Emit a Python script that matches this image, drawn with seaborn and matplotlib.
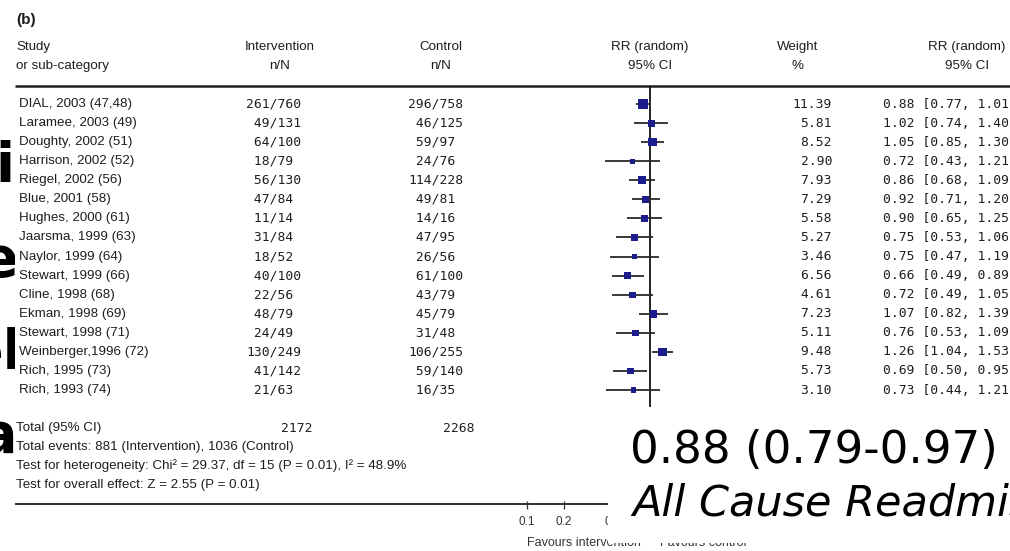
import numpy as np
import pandas as pd
import matplotlib
matplotlib.use("Agg")
import matplotlib.pyplot as plt
import seaborn as sns
from matplotlib.ticker import NullLocator, FixedLocator, FixedFormatter

# ---------------- data ----------------
studies = ["DIAL, 2003 (47,48)", "Laramee, 2003 (49)", "Doughty, 2002 (51)",
           "Harrison, 2002 (52)", "Riegel, 2002 (56)", "Blue, 2001 (58)",
           "Hughes, 2000 (61)", "Jaarsma, 1999 (63)", "Naylor, 1999 (64)",
           "Stewart, 1999 (66)", "Cline, 1998 (68)", "Ekman, 1998 (69)",
           "Stewart, 1998 (71)", "Weinberger,1996 (72)", "Rich, 1995 (73)",
           "Rich, 1993 (74)"]
int_events = [261, 49, 64, 18, 56, 47, 11, 31, 18, 40, 22, 48, 24, 130, 41, 21]
int_total = [760, 131, 100, 79, 130, 84, 14, 84, 52, 100, 56, 79, 49, 249, 142, 63]
ctl_events = [296, 46, 59, 24, 114, 49, 14, 47, 26, 61, 43, 45, 31, 106, 59, 16]
ctl_total = [758, 125, 97, 76, 228, 81, 16, 95, 56, 100, 79, 79, 48, 255, 140, 35]
weights = [11.39, 5.81, 8.52, 2.90, 7.93, 7.29, 5.58, 5.27, 3.46, 6.56, 4.61,
           7.23, 5.11, 9.48, 5.73, 3.10]
rr = [0.88, 1.02, 1.05, 0.72, 0.86, 0.92, 0.90, 0.75, 0.75, 0.66, 0.72, 1.07,
      0.76, 1.26, 0.69, 0.73]
rr_lo = [0.77, 0.74, 0.85, 0.43, 0.68, 0.71, 0.65, 0.53, 0.47, 0.49, 0.49, 0.82,
         0.53, 1.04, 0.50, 0.44]
rr_hi = [1.01, 1.40, 1.30, 1.21, 1.09, 1.20, 1.25, 1.06, 1.19, 0.89, 1.05, 1.39,
         1.09, 1.53, 0.95, 1.21]
total_int = "2172"
total_ctl = "2268"
scale_ticks = [0.1, 0.2, 0.5, 1, 2, 5, 10]
scale_labels = ["0.1", "0.2", "0.5", "1", "2", "5", "10"]
summary_text = "0.88 (0.79-0.97)"
outcome_text = "All Cause Readmission"
footer_lines = ["Total events: 881 (Intervention), 1036 (Control)",
                "Test for heterogeneity: Chi\u00b2 = 29.37, df = 15 (P = 0.01), I\u00b2 = 48.9%",
                "Test for overall effect: Z = 2.55 (P = 0.01)"]

df = pd.DataFrame({"study": studies, "rr": rr, "lo": rr_lo, "hi": rr_hi,
                   "weight": weights})
df["row"] = np.arange(len(df))

# ---------------- style ----------------
sns.set_theme(style="white")
plt.rcParams["font.family"] = ["Liberation Sans", "DejaVu Sans"]

W, H = 1010, 551
fig = plt.figure(figsize=(W / 100, H / 100), dpi=100)
fig.patch.set_facecolor("white")

INK = "#1e1e1e"
NAVY = "#1c1c8c"
SANS = 9.6
MONO = 9.4
MONOFAM = "DejaVu Sans Mono"
CHW = 8.3  # approx monospace char width in px

# background axes in pixel coordinates
bg = fig.add_axes([0, 0, 1, 1])
bg.set_xlim(0, W)
bg.set_ylim(H, 0)
bg.axis("off")

row_y0, row_dy = 104.0, 19.07
def ypix(i):
    return row_y0 + i * row_dy

# title and header
bg.text(16, 20, "(b)", fontsize=11, fontweight="bold", va="center", color=INK)
bg.text(16, 47, "Study", fontsize=SANS, va="center", color=INK)
bg.text(16, 66, "or sub-category", fontsize=SANS, va="center", color=INK)
for xc, l1, l2 in [(280, "Intervention", "n/N"), (441, "Control", "n/N"),
                   (650, "RR (random)", "95% CI"), (798, "Weight", "%"),
                   (967, "RR (random)", "95% CI")]:
    bg.text(xc, 47, l1, fontsize=SANS, ha="center", va="center", color=INK)
    bg.text(xc, 66, l2, fontsize=SANS, ha="center", va="center", color=INK)
bg.plot([15, W], [86, 86], color=INK, lw=1.8, solid_capstyle="butt")

# table rows
for i, r in df.iterrows():
    y = ypix(i)
    bg.text(19, y, r["study"], fontsize=SANS, va="center", color=INK)
    bg.text(271 - 3 * CHW, y, f"{int_events[i]:>3}/{int_total[i]}",
            fontsize=MONO, family=MONOFAM, ha="left", va="center", color=INK)
    bg.text(433 - 3 * CHW, y, f"{ctl_events[i]:>3}/{ctl_total[i]}",
            fontsize=MONO, family=MONOFAM, ha="left", va="center", color=INK)
    bg.text(832, y, f"{r['weight']:.2f}", fontsize=MONO, family=MONOFAM,
            ha="right", va="center", color=INK)
    bg.text(883, y, f"{r['rr']:.2f} [{r['lo']:.2f}, {r['hi']:.2f}]",
            fontsize=MONO, family=MONOFAM, ha="left", va="center", color=INK)

# totals and footer
bg.text(16, 428, "Total (95% CI)", fontsize=SANS, va="center", color=INK)
bg.text(313, 428, total_int, fontsize=MONO, family=MONOFAM, ha="right",
        va="center", color=INK)
bg.text(474, 428, total_ctl, fontsize=MONO, family=MONOFAM, ha="right",
        va="center", color=INK)
for k, line in enumerate(footer_lines):
    bg.text(16, 447 + k * 19, line, fontsize=SANS, va="center", color=INK)

bg.plot([15, W], [504, 504], color=INK, lw=1.3, solid_capstyle="butt")
bg.text(641, 543, "Favours intervention", fontsize=9, ha="right",
        va="center", color="#333333")
bg.text(660, 543, "Favours control", fontsize=9, ha="left", va="center",
        color="#333333")

# forest plot axes (log scale)
fx0, fx1 = 527, 773
top_px, bot_px = 86, 407
axf = fig.add_axes([fx0 / W, 1 - bot_px / H, (fx1 - fx0) / W, (bot_px - top_px) / H])
axf.set_xscale("log")
axf.set_xlim(0.1, 10)
axf.set_ylim((bot_px - row_y0) / row_dy, (top_px - row_y0) / row_dy)
axf.axis("off")
axf.axvline(1, color="#111111", lw=1.3)
axf.hlines(df["row"], df["lo"], df["hi"], color="#2a2a2a", lw=1.3)
sns.scatterplot(data=df, x="rr", y="row", size="weight", sizes=(14, 46),
                marker="s", color=NAVY, linewidth=0, legend=False, ax=axf,
                zorder=3)
axf.axis("off")

# scale axis
axs = fig.add_axes([fx0 / W, 1 - 505 / H, (fx1 - fx0) / W, 1 / H])
axs.set_xscale("log")
axs.set_xlim(0.1, 10)
axs.set_facecolor("none")
for sp in axs.spines.values():
    sp.set_visible(False)
axs.set_yticks([])
axs.xaxis.set_major_locator(FixedLocator(scale_ticks))
axs.xaxis.set_major_formatter(FixedFormatter(scale_labels))
axs.xaxis.set_minor_locator(NullLocator())
axs.tick_params(axis="x", direction="inout", length=6, width=0.9,
                labelsize=8.5, pad=5, colors="#333333", bottom=True)

# left-edge fragments of the slide text behind the chart
axl = fig.add_axes([0, 0, 15 / W, 1])
axl.set_xlim(0, 15)
axl.set_ylim(H, 0)
axl.axis("off")
for s, x, yb, ha in [("iv", -5, 181, "left"), ("e", 18, 276, "right"),
                     ("el", 22, 369, "right"), ("a", 17, 452, "right")]:
    axl.text(x, yb, s, fontsize=40, ha=ha, va="baseline", color="black",
             family="DejaVu Sans", fontweight="bold", clip_on=True)

# white overlay box with the summary text
axo = fig.add_axes([608 / W, 1 - 543 / H, (W - 608) / W, (543 - 407) / H])
axo.set_facecolor("white")
axo.set_xticks([])
axo.set_yticks([])
for sp in axo.spines.values():
    sp.set_visible(False)
axo.text(630, 463, summary_text, transform=bg.transData, fontsize=32.5,
         family="DejaVu Sans", ha="left", va="baseline", color="black",
         clip_on=False)
axo.text(632, 516, outcome_text, transform=bg.transData, fontsize=31,
         family="DejaVu Sans", style="italic", ha="left", va="baseline",
         color="black", clip_on=False)

fig.savefig("out.png", dpi=100, facecolor="white")
